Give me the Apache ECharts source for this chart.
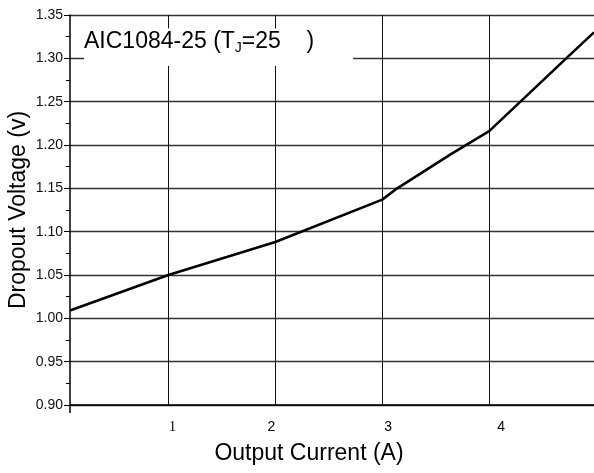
<!DOCTYPE html>
<html>
<head>
<meta charset="utf-8">
<script src="https://cdn.jsdelivr.net/npm/echarts@6/dist/echarts.min.js"></script>
<style>
html,body{margin:0;padding:0;background:#fff;}
#chart{width:594px;height:473px;}
</style>
</head>
<body>
<div id="chart"></div>
<script>
// Data
const current = [0.08, 1, 2, 3, 3.14, 3.65, 4, 4.72, 4.98];
const voltage = [1.009, 1.050, 1.088, 1.137, 1.150, 1.190, 1.216, 1.300, 1.330];
const xTicks = [1, 2, 3, 4];
const xMin = 0.08, xMax = 4.98;
const yMin = 0.90, yMax = 1.35, yStep = 0.05;

const FONT = "'Liberation Sans', Arial, sans-serif";
const chart = echarts.init(document.getElementById('chart'), null, {renderer: 'canvas'});

chart.setOption({
  animation: false,
  backgroundColor: '#fff',
  title: {
    text: '{a|AIC1084-25 (T}{b|J}{a|=25    )}',
    left: 84,
    top: 27,
    padding: [2, 39, 11, 0],
    backgroundColor: '#fff',
    textStyle: {
      fontWeight: 'normal',
      rich: {
        a: {fontFamily: FONT, fontSize: 23, fontWeight: 'normal', color: '#000', lineHeight: 26},
        b: {fontFamily: FONT, fontSize: 14, fontWeight: 'normal', color: '#000', lineHeight: 16, verticalAlign: 'bottom'}
      }
    }
  },
  grid: {left: 70, right: 0, top: 15, bottom: 68, containLabel: false, outerBoundsMode: 'none'},
  xAxis: [{
    type: 'value',
    min: xMin,
    max: xMax,
    name: 'Output Current (A)',
    nameLocation: 'middle',
    nameGap: 37,
    nameMoveOverlap: false,
    nameTextStyle: {fontFamily: FONT, fontSize: 23, color: '#000', padding: [0, 46, 0, 0]},
    axisLine: {show: true, onZero: false, lineStyle: {color: '#000', width: 1.5}},
    axisTick: {show: false, customValues: xTicks},
    axisLabel: {
      customValues: xTicks,
      margin: 15,
      formatter: function (v) { return '{s' + v + '|' + v + '}'; },
      rich: {
        s1: {fontFamily: "'Liberation Serif', 'Times New Roman', serif", fontSize: 14, color: '#000', padding: [0, 0, 0, 8]},
        s2: {fontFamily: FONT, fontSize: 14, color: '#000', padding: [0, 8, 0, 0]},
        s3: {fontFamily: FONT, fontSize: 14, color: '#000', padding: [0, 0, 0, 12]},
        s4: {fontFamily: FONT, fontSize: 14, color: '#000', padding: [0, 0, 0, 24]}
      }
    },
    splitLine: {show: true, lineStyle: {color: '#111', width: 1}}
  }, {
    type: 'value',
    position: 'bottom',
    min: xMin,
    max: xMax,
    axisLine: {show: false},
    axisTick: {show: true, customValues: [xMin], length: 8, lineStyle: {color: '#000', width: 1.5}},
    axisLabel: {show: false},
    splitLine: {show: false}
  }],
  yAxis: {
    type: 'value',
    min: yMin,
    max: yMax,
    interval: yStep,
    name: 'Dropout Voltage (v)',
    nameLocation: 'middle',
    nameGap: 40,
    nameMoveOverlap: false,
    nameRotate: 90,
    nameTextStyle: {fontFamily: FONT, fontSize: 23, color: '#000'},
    axisLine: {show: true, lineStyle: {color: '#000', width: 1.5}},
    axisTick: {show: true, inside: false, length: 6, lineStyle: {color: '#000'}},
    minorTick: {show: true, splitNumber: 2, length: 4, lineStyle: {color: '#000'}},
    axisLabel: {
      margin: 7,
      fontFamily: FONT,
      fontSize: 14,
      color: '#111',
      formatter: function (v) { return v.toFixed(2); }
    },
    splitLine: {show: true, lineStyle: {color: '#333', width: 1.3}}
  },
  series: [{
    type: 'line',
    xAxisIndex: 0,
    data: current.map(function (c, i) { return [c, voltage[i]]; }),
    showSymbol: false,
    symbol: 'none',
    smooth: false,
    lineStyle: {color: '#000', width: 2.6},
    clip: true
  }]
});
</script>
</body>
</html>
